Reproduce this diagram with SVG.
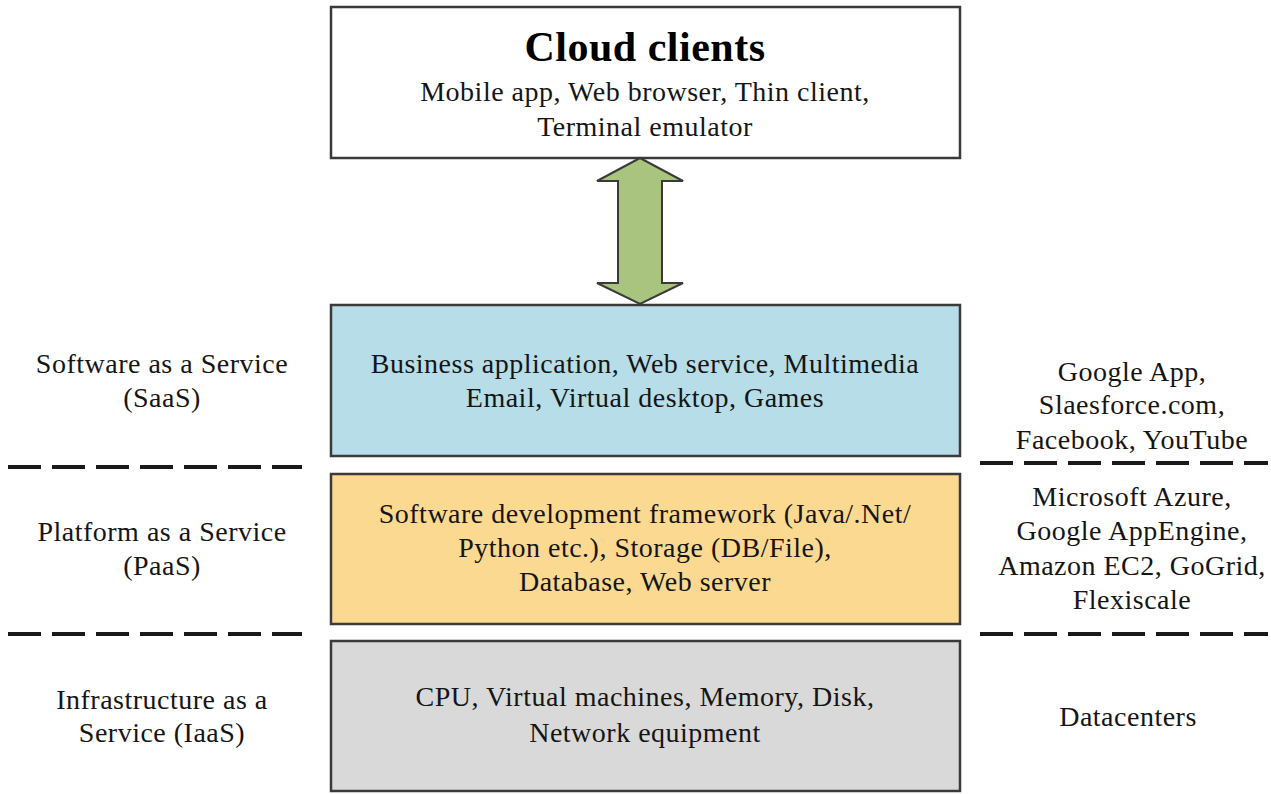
<svg xmlns="http://www.w3.org/2000/svg" width="1271" height="794" viewBox="0 0 1271 794">
<style>
text{font-family:"Liberation Serif","Times New Roman",serif;font-size:28px;letter-spacing:0.5px;fill:#151515;text-anchor:middle}
.title{font-size:42px;font-weight:bold;fill:#000}
.box{stroke:#3a3a3a;stroke-width:2.5}
.dash{stroke:#1a1a1a;stroke-width:4;stroke-dasharray:33 11;fill:none}
</style>
<rect width="1271" height="794" fill="#fff"/>
<g id="cloud-clients">
<rect class="box" x="331" y="7" width="629" height="151" fill="#fff"/>
<text class="title" x="645" y="61">Cloud clients</text>
<text x="645" y="101">Mobile app, Web browser, Thin client,</text>
<text x="645" y="136">Terminal emulator</text>
</g>
<g id="connectors">
<path d="M640,158 L683,181 L662,181 L662,283 L683,283 L640,304 L597,283 L618,283 L618,181 L597,181 Z" fill="#a9c47f" stroke="#3a3a3a" stroke-width="2" stroke-linejoin="miter"/>
</g>
<g id="saas">
<rect class="box" x="331" y="305" width="629" height="151" fill="#b7dde8"/>
<text x="645" y="373">Business application, Web service, Multimedia</text>
<text x="645" y="407">Email, Virtual desktop, Games</text>
</g>
<g id="paas">
<rect class="box" x="331" y="474" width="629" height="150" fill="#fcd991"/>
<text x="645" y="523">Software development framework (Java/.Net/</text>
<text x="645" y="557">Python etc.), Storage (DB/File),</text>
<text x="645" y="591">Database, Web server</text>
</g>
<g id="iaas">
<rect class="box" x="331" y="641" width="629" height="150" fill="#d9d9d9"/>
<text x="645" y="706">CPU, Virtual machines, Memory, Disk,</text>
<text x="645" y="742">Network equipment</text>
</g>
<g id="separators">
<line class="dash" x1="8" y1="467" x2="302" y2="467"/>
<line class="dash" x1="8" y1="634" x2="302" y2="634"/>
<line class="dash" x1="980" y1="463" x2="1268" y2="463"/>
<line class="dash" x1="980" y1="634" x2="1268" y2="634"/>
</g>
<g id="label-saas">
<text x="162" y="373">Software as a Service</text>
<text x="162" y="407">(SaaS)</text>
</g>
<g id="label-paas">
<text x="162" y="541">Platform as a Service</text>
<text x="162" y="575">(PaaS)</text>
</g>
<g id="label-iaas">
<text x="162" y="709">Infrastructure as a</text>
<text x="162" y="742">Service (IaaS)</text>
</g>
<g id="examples-saas">
<text x="1132" y="381">Google App,</text>
<text x="1132" y="414">Slaesforce.com,</text>
<text x="1132" y="449">Facebook, YouTube</text>
</g>
<g id="examples-paas">
<text x="1132" y="506">Microsoft Azure,</text>
<text x="1132" y="540">Google AppEngine,</text>
<text x="1132" y="575">Amazon EC2, GoGrid,</text>
<text x="1132" y="609">Flexiscale</text>
</g>
<g id="examples-iaas">
<text x="1128" y="726">Datacenters</text>
</g>
</svg>
